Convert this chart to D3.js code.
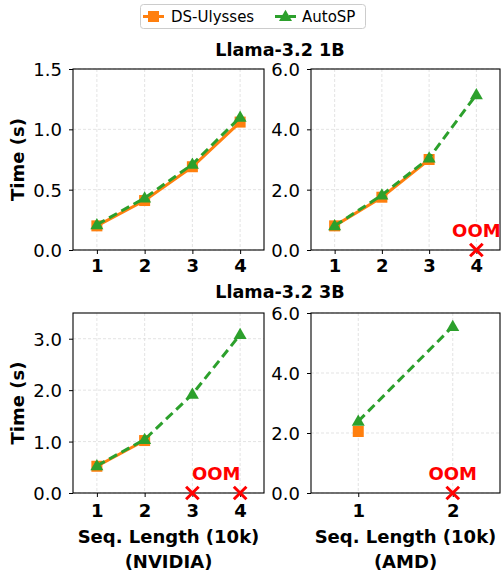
<!DOCTYPE html>
<html><head><meta charset="utf-8">
<script src="https://cdn.jsdelivr.net/npm/d3@7"></script>
<style>body{margin:0;background:#fff}svg{font-family:"DejaVu Sans",sans-serif}</style>
</head><body>
<svg id="c" width="503" height="575"></svg>
<script>
// ---- data ----
const seriesNames = ["DS-Ulysses", "AutoSP"];
const seq1B = [1, 2, 3, 4];
const seq3BNvidia = [1, 2, 3, 4];
const seq3BAmd = [1, 2];
// null = OOM
const nv1B_ulysses = [0.20, 0.41, 0.69, 1.06];
const nv1B_autosp  = [0.21, 0.43, 0.71, 1.10];
const amd1B_ulysses = [0.80, 1.75, 3.00, null];
const amd1B_autosp  = [0.80, 1.82, 3.05, 5.15];
const nv3B_ulysses = [0.52, 1.02, null, null];
const nv3B_autosp  = [0.53, 1.04, 1.92, 3.08];
const amd3B_ulysses = [2.05, null];
const amd3B_autosp  = [2.39, 5.55];
const ticksNv1B = [0, 0.5, 1.0, 1.5];
const ticks6 = [0, 2, 4, 6];
const ticksNv3B = [0, 1, 2, 3];

const colors = {"DS-Ulysses": "#ff7f0e", "AutoSP": "#2ca02c"};
const svg = d3.select("#c");
const FS = 18;

const panels = [
  {x0:73, x1:264, y0:69, y1:250, xs:seq1B, xd:[0.5,4.5], yd:[0,1.5], yt:ticksNv1B, u:nv1B_ulysses, a:nv1B_autosp, ylab:true, pad:9.5},
  {x0:311, x1:500, y0:69, y1:250, xs:seq1B, xd:[0.5,4.5], yd:[0,6], yt:ticks6, u:amd1B_ulysses, a:amd1B_autosp, ylab:false, pad:9.5},
  {x0:73, x1:264, y0:313, y1:493, xs:seq3BNvidia, xd:[0.5,4.5], yd:[0,3.5], yt:ticksNv3B, u:nv3B_ulysses, a:nv3B_autosp, ylab:true, xlab:"(NVIDIA)", pad:11},
  {x0:311, x1:500, y0:313, y1:493, xs:seq3BAmd, xd:[0.5,2.5], yd:[0,6], yt:ticks6, u:amd3B_ulysses, a:amd3B_autosp, ylab:false, xlab:"(AMD)", pad:11}
];

const triPath = s => { const h = s*0.866; return `M0,${-h*0.6}L${s/2},${h*0.4}L${-s/2},${h*0.4}Z`; };

panels.forEach(p => {
  const x = d3.scaleLinear().domain(p.xd).range([p.x0, p.x1]);
  const y = d3.scaleLinear().domain(p.yd).range([p.y1, p.y0]);
  const g = svg.append("g");
  // grid
  g.selectAll(".gx").data(p.xs).join("line")
    .attr("x1", d=>x(d)).attr("x2", d=>x(d)).attr("y1", p.y0).attr("y2", p.y1)
    .attr("stroke", "#dcdcdc").attr("stroke-width", 0.8).attr("stroke-dasharray", "3,2");
  g.selectAll(".gy").data(p.yt).join("line")
    .attr("x1", p.x0).attr("x2", p.x1).attr("y1", d=>y(d)).attr("y2", d=>y(d))
    .attr("stroke", "#dcdcdc").attr("stroke-width", 0.8).attr("stroke-dasharray", "3,2");
  // axes
  const ax = g.append("g").attr("transform", `translate(0,${p.y1})`)
    .call(d3.axisBottom(x).tickValues(p.xs).tickFormat(d3.format("d")).tickSize(4).tickPadding(p.pad-4));
  ax.selectAll("text").attr("font-size", FS).attr("font-weight", "bold").attr("fill", "#000");
  const ay = g.append("g").attr("transform", `translate(${p.x0},0)`)
    .call(d3.axisLeft(y).tickValues(p.yt).tickFormat(d3.format(".1f")).tickSize(4).tickPadding(7));
  ay.selectAll("text").attr("font-size", FS).attr("fill", "#000").attr("dy", "0.36em");
  [ax, ay].forEach(a => { a.select(".domain").remove(); a.selectAll("line").attr("stroke", "#000").attr("stroke-width", 1); a.attr("font-family", null); });
  g.append("rect").attr("x", p.x0).attr("y", p.y0).attr("width", p.x1-p.x0).attr("height", p.y1-p.y0)
    .attr("fill", "none").attr("stroke", "#000").attr("stroke-width", 1.1);

  const m = svg.append("g");
  const uPts = p.xs.map((d,i)=>({x:d, v:p.u[i]})).filter(d=>d.v!==null);
  const aPts = p.xs.map((d,i)=>({x:d, v:p.a[i]})).filter(d=>d.v!==null);
  const line = d3.line().x(d=>x(d.x)).y(d=>y(d.v));
  m.append("path").attr("d", line(uPts)).attr("fill","none").attr("stroke", colors["DS-Ulysses"]).attr("stroke-width", 3);
  m.selectAll(".sq").data(uPts).join("rect")
    .attr("x", d=>x(d.x)-5.5).attr("y", d=>y(d.v)-5.5).attr("width", 11).attr("height", 11)
    .attr("fill", colors["DS-Ulysses"]);
  m.append("path").attr("d", line(aPts)).attr("fill","none").attr("stroke", colors["AutoSP"]).attr("stroke-width", 3).attr("stroke-dasharray", "9,5");
  m.selectAll(".tr").data(aPts).join("path")
    .attr("transform", d=>`translate(${x(d.x)},${y(d.v)})`).attr("d", triPath(13))
    .attr("fill", colors["AutoSP"]);

  // OOM
  const oomX = p.xs.filter((d,i)=>p.u[i]===null || p.a[i]===null);
  if (oomX.length) {
    const xo = m.append("g");
    oomX.forEach(d => {
      const cx = x(d), cy = y(0), s = 6.3;
      xo.append("path").attr("d", `M${cx-s},${cy-s}L${cx+s},${cy+s}M${cx-s},${cy+s}L${cx+s},${cy-s}`)
        .attr("stroke", "#ff0000").attr("stroke-width", 3);
    });
    const lx = d3.mean(oomX);
    svg.append("text").attr("x", x(lx)).attr("y", y(0)-13).attr("text-anchor","middle")
      .attr("font-size", FS).attr("font-weight","bold").attr("fill","#ff0000").text("OOM");
  }
  if (p.ylab) {
    svg.append("text").attr("transform", `translate(24,${(p.y0+p.y1)/2}) rotate(-90)`)
      .attr("text-anchor","middle").attr("font-size", FS).attr("font-weight","bold").text("Time (s)");
  }
  if (p.xlab) {
    const cx = (p.x0+p.x1)/2;
    svg.append("text").attr("x", cx).attr("y", 543).attr("text-anchor","middle")
      .attr("font-size", FS).attr("font-weight","bold").text("Seq. Length (10k)");
    svg.append("text").attr("x", cx).attr("y", 568).attr("text-anchor","middle")
      .attr("font-size", FS).attr("font-weight","bold").text(p.xlab);
  }
});

// titles
svg.append("text").attr("x", 280).attr("y", 56).attr("text-anchor","middle")
  .attr("font-size", 17.6).attr("font-weight","bold").text("Llama-3.2 1B");
svg.append("text").attr("x", 280).attr("y", 298).attr("text-anchor","middle")
  .attr("font-size", 17.6).attr("font-weight","bold").text("Llama-3.2 3B");

// legend
const lg = svg.append("g");
lg.append("rect").attr("x", 140.5).attr("y", 4.5).attr("width", 225).attr("height", 24).attr("rx", 3)
  .attr("fill", "#fff").attr("stroke", "#cccccc").attr("stroke-width", 1);
const items = [{n:seriesNames[0], x:143, tx:171}, {n:seriesNames[1], x:275, tx:302}];
items.forEach(it => {
  const c = colors[it.n];
  lg.append("line").attr("x1", it.x).attr("x2", it.x+21).attr("y1", 16.5).attr("y2", 16.5)
    .attr("stroke", c).attr("stroke-width", 3).attr("stroke-dasharray", it.n==="AutoSP" ? "9,5" : null);
  if (it.n === "AutoSP") {
    lg.append("path").attr("transform", `translate(${it.x+10.5},16.5)`).attr("d", triPath(13)).attr("fill", c);
  } else {
    lg.append("rect").attr("x", it.x+5).attr("y", 11).attr("width", 11).attr("height", 11).attr("fill", c);
  }
  lg.append("text").attr("x", it.tx).attr("y", 22).attr("font-size", 15).text(it.n);
});
</script>
</body></html>
